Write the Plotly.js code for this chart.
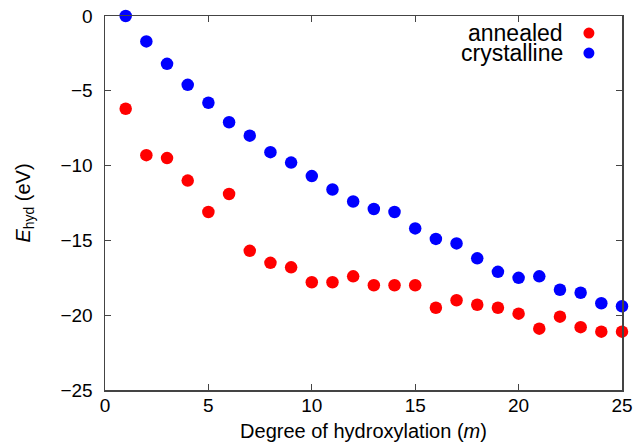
<!DOCTYPE html>
<html>
<head>
<meta charset="utf-8">
<script src="https://cdn.plot.ly/plotly-3.0.1.min.js"></script>
<style>html,body{margin:0;padding:0;background:#fff;}#chart{width:637px;height:443px;}</style>
</head>
<body>
<div id="chart"></div>
<script>
var m = [1,2,3,4,5,6,7,8,9,10,11,12,13,14,15,16,17,18,19,20,21,22,23,24,25];
var annealed = [-6.2,-9.3,-9.5,-11.0,-13.1,-11.9,-15.7,-16.5,-16.8,-17.8,-17.8,-17.4,-18.0,-18.0,-18.0,-19.5,-19.0,-19.3,-19.5,-19.9,-20.9,-20.1,-20.8,-21.1,-21.1];
var crystalline = [0.0,-1.7,-3.2,-4.6,-5.8,-7.1,-8.0,-9.1,-9.8,-10.7,-11.6,-12.4,-12.9,-13.1,-14.2,-14.9,-15.2,-16.2,-17.1,-17.5,-17.4,-18.3,-18.5,-19.2,-19.4];
var seriesNames = ["annealed","crystalline"];
var seriesColors = ["#ff0000","#0000ff"];

var font = "Liberation Sans, Arial, Helvetica, sans-serif";
var traces = [
  {x:m, y:annealed, name:seriesNames[0], mode:"markers", type:"scatter", cliponaxis:false,
   marker:{color:seriesColors[0], size:12.5}},
  {x:m, y:crystalline, name:seriesNames[1], mode:"markers", type:"scatter", cliponaxis:false,
   marker:{color:seriesColors[1], size:12.5}}
];

var legY = [0.9545, 0.901];
var annotations = [];
var shapes = [];
for (var i=0;i<seriesNames.length;i++){
  annotations.push({xref:"paper", yref:"paper", x:0.888, y:legY[i], xanchor:"right", yanchor:"middle",
    borderpad:0,
    text:seriesNames[i], showarrow:false, font:{family:font, size:23, color:"#000"}});
  shapes.push({type:"circle", xref:"paper", yref:"paper", xsizemode:"pixel", ysizemode:"pixel",
    xanchor:0.936, yanchor:legY[i], x0:-5.5, x1:5.5, y0:-5.5, y1:5.5,
    fillcolor:seriesColors[i], line:{width:0}});
}

var layout = {
  width:637, height:443,
  margin:{l:105, r:15, t:16, b:53},
  paper_bgcolor:"#fff", plot_bgcolor:"#fff",
  showlegend:false,
  font:{family:font, size:19, color:"#000"},
  xaxis:{range:[0,25], dtick:5, tick0:0, ticks:"inside", ticklen:6, tickwidth:1, tickcolor:"#444",
    showline:true, linecolor:"#444", linewidth:1.5, mirror:"ticks", showgrid:false, zeroline:false,
    tickfont:{family:font, size:19}, ticklabelstandoff:-2,
    title:{text:"Degree of hydroxylation (<i>m</i>)", font:{family:font, size:20}, standoff:8}},
  yaxis:{range:[-25,0], dtick:5, ticks:"inside", ticklen:6, tickwidth:1, tickcolor:"#444",
    showline:true, linecolor:"#444", linewidth:1.5, mirror:"ticks", showgrid:false, zeroline:false,
    tickfont:{family:font, size:19}, ticklabelstandoff:7,
    title:{text:"<i>E</i><sub>hyd</sub> (eV)", font:{family:font, size:20}, standoff:24}},
  annotations:annotations,
  shapes:shapes
};
Plotly.newPlot("chart", traces, layout, {displayModeBar:false, staticPlot:true});
</script>
</body>
</html>
